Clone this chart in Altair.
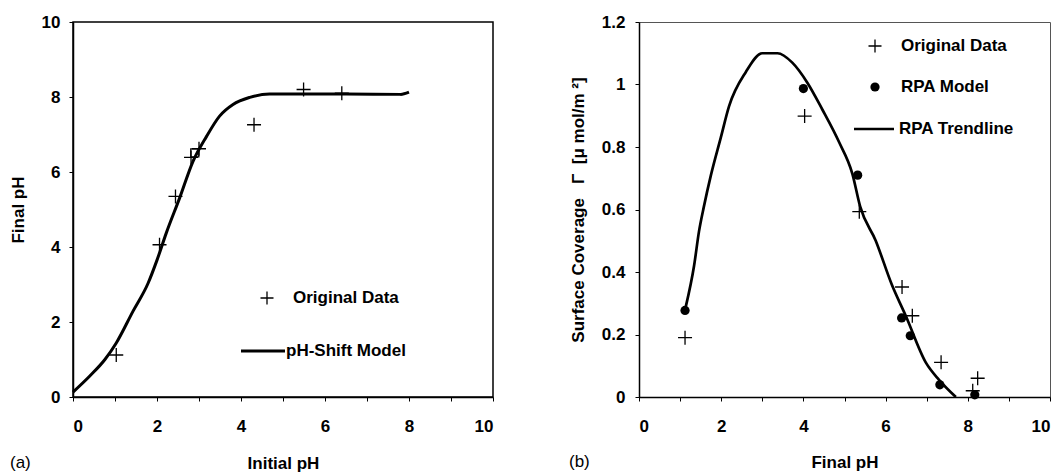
import altair as alt
import pandas as pd

FONT = "Liberation Sans"

# ---------------- Panel (a): Final pH vs Initial pH ----------------
a_orig_x = [1.03, 2.06, 2.44, 2.81, 3.00, 4.31, 5.49, 6.40]
a_orig_y = [1.12, 4.06, 5.35, 6.39, 6.62, 7.26, 8.20, 8.10]
a_square_x = [2.90]
a_square_y = [6.51]
a_model_x = [0.0, 0.40, 0.76, 1.03, 1.43, 1.79, 2.00, 2.22, 2.54, 2.86, 3.18, 3.49,
             3.81, 4.21, 4.68, 5.20, 6.50, 7.80, 8.00]
a_model_y = [0.13, 0.56, 1.00, 1.44, 2.29, 3.04, 3.65, 4.37, 5.31, 6.29, 6.95, 7.49,
             7.80, 7.99, 8.08, 8.08, 8.08, 8.07, 8.13]

# ---------------- Panel (b): Surface coverage vs Final pH ----------------
b_orig_x = [1.12, 4.03, 5.36, 6.40, 6.65, 7.35, 8.24, 8.12]
b_orig_y = [0.190, 0.899, 0.593, 0.352, 0.260, 0.111, 0.060, 0.020]
b_rpa_x = [1.12, 4.00, 5.32, 6.39, 6.60, 7.32, 8.17]
b_rpa_y = [0.277, 0.987, 0.710, 0.253, 0.196, 0.039, 0.007]
b_trend_x = [1.14, 1.34, 1.46, 1.58, 1.75, 1.99, 2.19, 2.60, 3.00, 3.37, 3.73, 4.10,
             4.46, 4.87, 5.19, 5.38, 5.76, 6.15, 6.49, 6.98, 7.30, 7.71]
b_trend_y = [0.290, 0.420, 0.530, 0.610, 0.710, 0.830, 0.930, 1.040, 1.100, 1.100, 1.070, 1.005,
             0.920, 0.815, 0.715, 0.610, 0.500, 0.360, 0.260, 0.110, 0.055, 0.000]

legend_a = ["Original Data", "pH-Shift Model"]
legend_b = ["Original Data", "RPA Model", "RPA Trendline"]
panel_tags = ["(a)", "(b)"]
NB = "\u00a0"
b_ytitle = "Surface Coverage" + NB * 3 + "\u0393" + NB * 2 + "[\u03bc" + NB + "mol/m" + NB + "\u00b2]"

CROSS = "M-1,0L1,0M0,-1L0,1"

W_A, W_B, H = 420, 411, 375


def df(xs, ys):
    return pd.DataFrame({"x": xs, "y": ys})


def one(label):
    return pd.DataFrame({"t": [label]})


def legend_text(label, px, py, bold=True, size=17):
    return alt.Chart(one(label)).mark_text(
        align="left", baseline="middle", font=FONT, fontSize=size,
        fontWeight="bold" if bold else "normal", color="black"
    ).encode(text="t:N", x=alt.value(px), y=alt.value(py))


def cross_marks(data, xs, ys):
    return alt.Chart(data).mark_point(
        shape=CROSS, size=196, filled=False, stroke="black", strokeWidth=1.3, opacity=1
    ).encode(x=xs, y=ys)


# ---- panel (a) ----
xa = alt.X("x:Q", scale=alt.Scale(domain=[0, 10], nice=False),
           axis=alt.Axis(values=list(range(11)),
                         labelExpr="datum.value % 2 == 0 ? datum.label : ''",
                         title="Initial pH", titleY=66, titleBaseline="middle"))
ya = alt.Y("y:Q", scale=alt.Scale(domain=[0, 10], nice=False),
           axis=alt.Axis(values=list(range(11)),
                         labelExpr="datum.value % 2 == 0 ? datum.label : ''",
                         title="Final pH", titleX=-55, titleBaseline="middle"))

a_line = alt.Chart(df(a_model_x, a_model_y)).mark_line(
    color="black", strokeWidth=3, interpolate="monotone"
).encode(x=xa, y=ya)
a_pts = cross_marks(df(a_orig_x, a_orig_y), "x:Q", "y:Q")
a_sq = alt.Chart(df(a_square_x, a_square_y)).mark_point(
    shape="square", size=64, filled=False, stroke="black", strokeWidth=1.3, opacity=1
).encode(x="x:Q", y="y:Q")

a_leg_cross = alt.Chart(one("c")).mark_point(
    shape=CROSS, size=169, filled=False, stroke="black", strokeWidth=1.3, opacity=1
).encode(x=alt.value(194), y=alt.value(276))
a_leg_line = alt.Chart(one("l")).mark_rule(color="black", strokeWidth=3).encode(
    x=alt.value(168), x2=alt.value(212), y=alt.value(329))

panel_a = alt.layer(
    a_line, a_pts, a_sq,
    a_leg_cross, legend_text(legend_a[0], 220, 276),
    a_leg_line, legend_text(legend_a[1], 213, 329),
    legend_text(panel_tags[0], -63, 441, bold=False),
).properties(width=W_A, height=H,
             view=alt.ViewBackground(stroke="black", strokeWidth=1.5))

# ---- panel (b) ----
xb = alt.X("x:Q", scale=alt.Scale(domain=[0, 10], nice=False),
           axis=alt.Axis(values=list(range(11)),
                         labelExpr="datum.value % 2 == 0 ? datum.label : ''",
                         title="Final pH", titleY=65, titleBaseline="middle"))
yb = alt.Y("y:Q", scale=alt.Scale(domain=[0, 1.2], nice=False),
           axis=alt.Axis(values=[i / 10 for i in range(13)],
                         labelExpr="round(datum.value*10) % 2 == 0 ? '' + round(datum.value*10)/10 : ''",
                         title=b_ytitle,
                         titleX=-61, titleBaseline="middle", labelPadding=10))

b_line = alt.Chart(df(b_trend_x, b_trend_y)).mark_line(
    color="black", strokeWidth=2.7, interpolate="monotone"
).encode(x=xb, y=yb)
b_dots = alt.Chart(df(b_rpa_x, b_rpa_y)).mark_circle(
    size=85, color="black", opacity=1
).encode(x="x:Q", y="y:Q")
b_pts = cross_marks(df(b_orig_x, b_orig_y), "x:Q", "y:Q")

b_leg_cross = alt.Chart(one("c")).mark_point(
    shape=CROSS, size=169, filled=False, stroke="black", strokeWidth=1.3, opacity=1
).encode(x=alt.value(236), y=alt.value(24))
b_leg_dot = alt.Chart(one("d")).mark_circle(size=85, color="black", opacity=1).encode(
    x=alt.value(236), y=alt.value(65))
b_leg_line = alt.Chart(one("l")).mark_rule(color="black", strokeWidth=2.7).encode(
    x=alt.value(215), x2=alt.value(255), y=alt.value(107))

panel_b = alt.layer(
    b_line, b_dots, b_pts,
    b_leg_cross, legend_text(legend_b[0], 262, 24),
    b_leg_dot, legend_text(legend_b[1], 262, 65),
    b_leg_line, legend_text(legend_b[2], 260, 107),
    legend_text(panel_tags[1], -70, 440, bold=False),
).properties(width=W_B, height=H,
             view=alt.ViewBackground(stroke="#555555", strokeWidth=1))

chart = alt.hconcat(panel_a, panel_b, spacing=146, bounds="flush").properties(
    padding={"left": 8, "top": 12, "right": 0, "bottom": 0},
    background="white",
).configure_axis(
    grid=False,
    domainColor="black", domainWidth=1.5,
    tickColor="black", tickWidth=1, tickSize=4,
    labelFont=FONT, labelFontSize=17, labelFontWeight="bold", labelColor="black",
    labelPadding=9,
    titleFont=FONT, titleFontSize=17, titleFontWeight="bold", titleColor="black",
).configure_axisX(labelPadding=17).configure_text(font=FONT)

chart.save("out.html", embed_options={"renderer": "svg", "actions": False})
